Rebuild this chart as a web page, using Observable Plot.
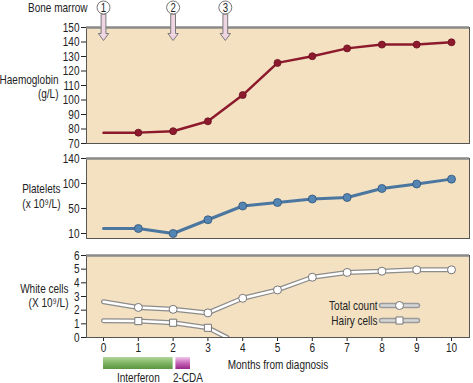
<!DOCTYPE html>
<html><head><meta charset="utf-8">
<script src="https://cdn.jsdelivr.net/npm/d3@7"></script>
<script src="https://cdn.jsdelivr.net/npm/@observablehq/plot@0.6"></script>
<style>
body{margin:0;background:#fff;}
#chart{position:relative;width:473px;height:383px;}
#chart svg{position:absolute;left:0;}
</style></head><body><div id="chart"></div>
<script>
// ---- data ----
const months = [0,1,2,3,4,5,6,7,8,9,10];
const haemoglobin = [77.5,77.5,78.5,85.3,103.4,125.6,130.2,135.6,138.2,138.2,139.8];
const platelets = [18,18,10,32,55,62,69,72,90,99,107];
const totalCount = [2.62,2.2,2.06,1.8,2.87,3.48,4.41,4.76,4.85,4.95,4.95];
const hairyMonths = [0,1,2,3,3.55];
const hairyCells = [1.23,1.2,1.08,0.71,0];
const boneMarrowMonths = [0,2,3.5];
const boneMarrowLabels = ["1","2","3"];
const haemoTicks = [70,80,90,100,110,120,130,140,150];
const plateletTicks = [10,50,100,140];
const whiteTicks = [0,1,2,3,4,5,6];
const treatmentNames = ["Interferon","2-CDA"];
const treatmentStart = [0,2.08];
const treatmentEnd = [2,2.5];
const legendLabels = ["Total count","Hairy cells"];
const legendSymbols = ["circle","square"];

// ---- style ----
const FONT = '"Liberation Sans",Arial,sans-serif';
const FS = 13;
const BEIGE = "#f3e1c2";
const RED = "#8c1a2c";
const BLUE = "#4b76a0";
const style = {fontFamily: FONT, fontSize: FS + "px", color: "#222", background: "transparent", overflow: "visible"};
const xDomain = [-0.489, 10.517];
const common = {width: 473, marginLeft: 86, marginRight: 4, style};
const fmt = d => String(d);

const blockArrow = {draw(ctx, l) {
  const w = 2.4, hw = 5.2, hl = 7;
  ctx.moveTo(-w, 0); ctx.lineTo(-w, -(l - hl)); ctx.lineTo(-hw, -(l - hl));
  ctx.lineTo(0, -l); ctx.lineTo(hw, -(l - hl)); ctx.lineTo(w, -(l - hl));
  ctx.lineTo(w, 0); ctx.closePath();
}};
const lineShape = {draw(ctx, l) { ctx.moveTo(0, 0); ctx.lineTo(0, -l); }};

const hb = months.map((m, i) => ({month: m, value: haemoglobin[i]}));
const pl = months.map((m, i) => ({month: m, value: platelets[i]}));
const tc = months.map((m, i) => ({month: m, value: totalCount[i]}));
const hc = hairyMonths.map((m, i) => ({month: m, value: hairyCells[i]}));
const bm = boneMarrowMonths.map((m, i) => ({month: m, label: boneMarrowLabels[i]}));
const tr = treatmentNames.map((n, i) => ({name: n, start: treatmentStart[i], end: treatmentEnd[i]}));

const chart = document.getElementById("chart");
function place(svg, top) { svg.style.top = top + "px"; chart.appendChild(svg); return svg; }

// ---- Panel 1: Haemoglobin ----
place(Plot.plot({
  ...common, height: 150, marginTop: 27, marginBottom: 7,
  x: {domain: xDomain, axis: null},
  y: {domain: [70, 150], ticks: haemoTicks, tickFormat: fmt, tickSize: 5, tickPadding: 2, label: null},
  marks: [
    Plot.frame({fill: BEIGE, stroke: "#555"}),
    Plot.ruleY([haemoTicks[haemoTicks.length - 1]], {stroke: "#8a8a8a", strokeWidth: 2.5}),
    Plot.line(hb, {x: "month", y: "value", stroke: RED, strokeWidth: 2.5}),
    Plot.dot(hb.filter(d => d.month > 0), {x: "month", y: "value", r: 3.5, fill: RED, stroke: "#6a1020", strokeWidth: 0.8}),
    Plot.vector(bm, {x: "month", frameAnchor: "top", dy: -13, rotate: 180, length: 26, anchor: "start", shape: blockArrow, fill: "#efd4e2", stroke: "#7a7a7a", strokeWidth: 1}),
    Plot.dot(bm, {x: "month", frameAnchor: "top", dy: -20, r: 6.5, fill: "white", stroke: "#777", strokeWidth: 1}),
    Plot.text(bm, {x: "month", text: "label", frameAnchor: "top", dy: -20, lineAnchor: "middle", fontSize: 12.5}),
    Plot.text(["Bone marrow"], {frameAnchor: "top-left", dx: 1, dy: -20, textAnchor: "end", lineAnchor: "middle", fontSize: FS}),
    Plot.text(["Haemoglobin\n(g/L)"], {frameAnchor: "left", dx: -28, dy: 1, textAnchor: "end", lineHeight: 1.05, fontSize: FS})
  ]
}), 0);

// ---- Panel 2: Platelets ----
place(Plot.plot({
  ...common, height: 95, marginTop: 8, marginBottom: 7,
  x: {domain: xDomain, axis: null},
  y: {type: "linear", domain: [2, 10, 50, 100, 140], range: [88, 83, 58, 33, 8], ticks: plateletTicks, tickFormat: fmt, tickSize: 5, tickPadding: 2, label: null},
  marks: [
    Plot.frame({fill: BEIGE, stroke: "#555"}),
    Plot.ruleY([plateletTicks[plateletTicks.length - 1]], {stroke: "#8a8a8a", strokeWidth: 2.5}),
    Plot.line(pl, {x: "month", y: "value", stroke: BLUE, strokeWidth: 3}),
    Plot.dot(pl.filter(d => d.month > 0), {x: "month", y: "value", r: 4, fill: "#5585b3", stroke: "#2f5478", strokeWidth: 0.8}),
    Plot.text(["Platelets\n(x 10⁹/L)"], {frameAnchor: "left", dx: -26, dy: -3, textAnchor: "end", lineHeight: 1.15, fontSize: FS})
  ]
}), 150);

// ---- Panel 3: White cells ----
const legendMarks = legendLabels.flatMap((lab, i) => {
  const dy = 50 + i * 15;
  return [
    Plot.text([lab], {frameAnchor: "top-right", dx: -92, dy, textAnchor: "end", lineAnchor: "middle", fontSize: FS}),
    Plot.vector([lab], {frameAnchor: "top-right", dx: -88, dy, rotate: 90, length: 36, anchor: "start", shape: lineShape, stroke: "#9a9a9a", strokeWidth: 5.5, strokeLinecap: "round"}),
    Plot.vector([lab], {frameAnchor: "top-right", dx: -88, dy, rotate: 90, length: 36, anchor: "start", shape: lineShape, stroke: "#d6d6d6", strokeWidth: 2.5, strokeLinecap: "round"}),
    Plot.dot([lab], {frameAnchor: "top-right", dx: -70, dy, symbol: legendSymbols[i], r: 4, fill: "white", stroke: "#777", strokeWidth: 1})
  ];
});
place(Plot.plot({
  ...common, height: 138, marginTop: 10, marginBottom: 46,
  x: {domain: xDomain, ticks: months, tickFormat: fmt, tickSize: 4, tickPadding: 1, label: null},
  y: {domain: [0, 6], ticks: whiteTicks, tickFormat: fmt, tickSize: 5, tickPadding: 2, label: null},
  marks: [
    Plot.frame({fill: BEIGE, stroke: "#555"}),
    Plot.ruleY([whiteTicks[whiteTicks.length - 1]], {stroke: "#8a8a8a", strokeWidth: 2.5}),
    Plot.line(tc, {x: "month", y: "value", stroke: "#8c8c8c", strokeWidth: 5, clip: true}),
    Plot.line(tc, {x: "month", y: "value", stroke: "white", strokeWidth: 2.5, clip: true}),
    Plot.line(hc, {x: "month", y: "value", stroke: "#8c8c8c", strokeWidth: 5, clip: true}),
    Plot.line(hc, {x: "month", y: "value", stroke: "white", strokeWidth: 2.5, clip: true}),
    Plot.dot(tc.filter(d => d.month > 0), {x: "month", y: "value", r: 4, fill: "white", stroke: "#777", strokeWidth: 1}),
    Plot.dot(hc.filter(d => d.month > 0 && Number.isInteger(d.month)), {x: "month", y: "value", symbol: "square", r: 4, fill: "white", stroke: "#777", strokeWidth: 1}),
    ...legendMarks,
    Plot.text(["White cells\n(X 10⁹/L)"], {frameAnchor: "left", dx: -18, dy: -1, textAnchor: "end", lineHeight: 1.1, fontSize: FS}),
    Plot.text(["Months from diagnosis"], {frameAnchor: "bottom", dy: 27, lineAnchor: "middle", fontSize: FS})
  ]
}), 245);

// ---- Treatment bars ----
const tsvg = Plot.plot({
  ...common, height: 28, marginTop: 2, marginBottom: 14,
  x: {domain: xDomain, axis: null},
  marks: [
    Plot.rect(tr.filter(d => d.name === "Interferon"), {x1: "start", x2: "end", fill: "url(#ginterferon)"}),
    Plot.rect(tr.filter(d => d.name !== "Interferon"), {x1: "start", x2: "end", fill: "url(#gcda)"}),
    Plot.text(tr.filter(d => d.name === "Interferon"), {x: d => (d.start + d.end) / 2, text: "name", frameAnchor: "bottom", dy: 8, lineAnchor: "middle", fontSize: FS}),
    Plot.text(tr.filter(d => d.name !== "Interferon"), {x: "start", text: "name", frameAnchor: "bottom", dx: -3, dy: 8, textAnchor: "start", lineAnchor: "middle", fontSize: FS})
  ]
});
const ns = "http://www.w3.org/2000/svg";
const defs = document.createElementNS(ns, "defs");
defs.innerHTML = `
<linearGradient id="ginterferon" x1="0" y1="0" x2="0" y2="1">
  <stop offset="0" stop-color="#b3d59a"/><stop offset="0.5" stop-color="#7fb563"/><stop offset="1" stop-color="#5b9442"/>
</linearGradient>
<linearGradient id="gcda" x1="0" y1="0" x2="0" y2="1">
  <stop offset="0" stop-color="#f0c8ec"/><stop offset="0.5" stop-color="#c766b8"/><stop offset="1" stop-color="#9a2888"/>
</linearGradient>`;
tsvg.insertBefore(defs, tsvg.firstChild);
place(tsvg, 355);

// Condense all text horizontally (the reference uses a narrow face):
// scale each text element about its own anchor point.
const SQUEEZE = 0.77;
chart.querySelectorAll("text").forEach(t => {
  const tf = t.getAttribute("transform") || "";
  t.setAttribute("transform", (tf + ` scale(${SQUEEZE},1)`).trim());
});
</script></body></html>
